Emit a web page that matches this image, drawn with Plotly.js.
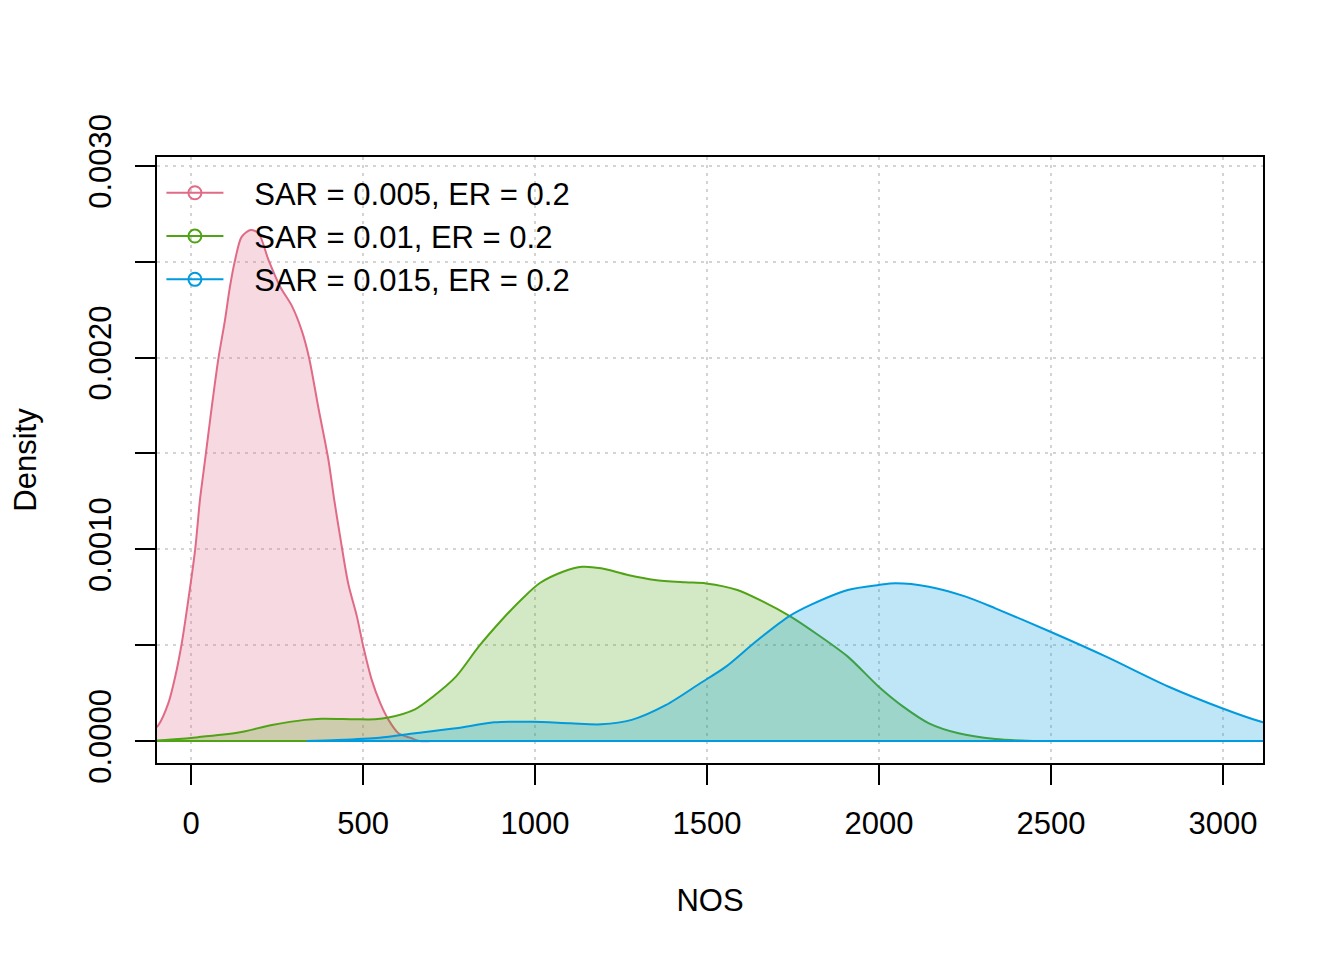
<!DOCTYPE html>
<html>
<head>
<meta charset="utf-8">
<script src="https://cdn.plot.ly/plotly-3.0.1.min.js"></script>
<style>
  body { margin: 0; background: #fff; }
  #chart { width: 1344px; height: 960px; }
</style>
</head>
<body>
<div id="chart"></div>
<script>
// Density estimates (NOS vs density)
const seriesNames = ['SAR = 0.005, ER = 0.2', 'SAR = 0.01, ER = 0.2', 'SAR = 0.015, ER = 0.2'];
const seriesColors = ['#E16A86', '#50A315', '#009ADE'];

const nosLow = [-180, -140, -95, -66, -46, -27, -8, 12, 26, 41, 60, 79, 99, 113, 128, 147, 173,
                196, 225, 259, 293, 322, 343, 370, 399, 416, 433, 457, 482, 501, 525, 550, 574, 603, 641, 664, 700];
const densLow = [0, 0.00002, 0.000083, 0.000197, 0.000336, 0.00051, 0.000736, 0.001, 0.00126, 0.00147, 0.00174, 0.00199, 0.0022, 0.00237, 0.00251, 0.00263, 0.002666,
                 0.00265, 0.00251, 0.00237, 0.00227, 0.00214, 0.002, 0.00174, 0.00147, 0.00126, 0.00107, 0.00082, 0.00065, 0.00049, 0.00032, 0.000197, 0.00011, 0.00004, 0.000014, 0, 0];

const nosMid = [-200, -99, 21, 138, 235, 331, 380, 477, 535, 574, 651, 703, 770, 836, 903, 959, 1014, 1081, 1137, 1192, 1270,
                1348, 1437, 1497, 1588, 1663, 1743, 1823, 1909, 1999, 2070, 2145, 2231, 2338, 2413, 2450];
const densMid = [0, 0.000003, 0.00002, 0.000044, 0.000083, 0.00011, 0.000116, 0.000113, 0.000113, 0.000122, 0.000165, 0.000231, 0.000336, 0.000492, 0.000631, 0.000736, 0.000824, 0.000883, 0.000909, 0.000901, 0.000866,
                 0.00084, 0.000828, 0.000822, 0.000788, 0.000727, 0.000649, 0.000553, 0.00044, 0.000283, 0.000179, 0.000092, 0.00004, 0.00001, 0.000002, 0];

const nosHigh = [336, 425, 548, 651, 770, 881, 992, 1103, 1192, 1281, 1381, 1480, 1555, 1641, 1737, 1801, 1909, 1999, 2048,
                 2145, 2252, 2338, 2498, 2660, 2842, 2997, 3111, 3200, 3300, 3400, 3460];
const densHigh = [0, 0.000005, 0.000017, 0.00004, 0.000066, 0.000097, 0.0001, 0.000092, 0.000087, 0.00011, 0.000188, 0.000301, 0.000388, 0.000518, 0.000649, 0.00071, 0.000788, 0.000814, 0.000823,
                  0.000805, 0.000753, 0.000692, 0.00057, 0.00044, 0.000283, 0.000171, 0.0001, 0.00006, 0.00003, 0.00001, 0];

const xTicks = [0, 500, 1000, 1500, 2000, 2500, 3000];
const yTicks = [0, 0.001, 0.002, 0.003];

function hexToRgba(hex, a) {
    const n = parseInt(hex.slice(1), 16);
    return `rgba(${(n >> 16) & 255},${(n >> 8) & 255},${n & 255},${a})`;
}

// filled density curve plus the straight baseline R's polygon() leaves
function densityTraces(xs, ys, color) {
    const curve = {
        x: xs, y: ys,
        type: 'scatter',
        mode: 'lines',
        fill: 'tozeroy',
        fillcolor: hexToRgba(color, 0.25),
        line: { color: color, width: 2, shape: 'spline', smoothing: 0.8 },
        showlegend: false,
        hoverinfo: 'skip'
    };
    const base = {
        x: [xs[0], xs[xs.length - 1]],
        y: [ys[0], ys[ys.length - 1]],
        type: 'scatter',
        mode: 'lines',
        line: { color: color, width: 2 },
        showlegend: false,
        hoverinfo: 'skip'
    };
    return [curve, base];
}

// legend-only entries with the open circle symbol
// (leading no-break spaces reproduce the gap R leaves before the labels)
function legendTrace(name, color) {
    return {
        x: [null], y: [null],
        type: 'scatter',
        mode: 'lines+markers',
        name: '\u00A0\u00A0\u00A0' + name,
        line: { color: color, width: 2 },
        marker: { symbol: 'circle-open', size: 13, color: color, line: { width: 2, color: color } }
    };
}

const data = [].concat(
    densityTraces(nosLow, densLow, seriesColors[0]),
    densityTraces(nosMid, densMid, seriesColors[1]),
    densityTraces(nosHigh, densHigh, seriesColors[2])
);
seriesNames.forEach((name, i) => data.push(legendTrace(name, seriesColors[i])));

const font = { family: 'Liberation Sans, Arial, sans-serif', size: 31, color: '#000' };
const gridDash = '3px,5px';

const layout = {
    width: 1344,
    height: 960,
    margin: { l: 157, r: 81, t: 157, b: 197 },
    paper_bgcolor: '#fff',
    plot_bgcolor: '#fff',
    font: font,
    showlegend: true,
    legend: {
        x: 0.004, y: 0.985, xanchor: 'left', yanchor: 'top',
        bgcolor: 'rgba(0,0,0,0)',
        font: font,
        itemwidth: 57,
        tracegroupgap: 0
    },
    xaxis: {
        range: [-99, 3116],
        tickvals: xTicks,
        ticktext: xTicks.map(String),
        ticks: 'outside', ticklen: 20, tickwidth: 2, tickcolor: '#000',
        ticklabelstandoff: 12,
        showline: true, linecolor: '#000', linewidth: 2, mirror: true,
        showgrid: true, gridcolor: '#D3D3D3', gridwidth: 2, griddash: gridDash,
        zeroline: false,
        title: { text: 'NOS', font: font, standoff: 49 }
    },
    yaxis: {
        range: [-0.000115, 0.003047],
        tickvals: yTicks,
        ticktext: yTicks.map(v => v.toFixed(4)),
        tickangle: -90,
        ticks: 'outside', ticklen: 20, tickwidth: 2, tickcolor: '#000',
        ticklabelstandoff: 12,
        minor: {
            dtick: 0.0005, tick0: 0, ticks: 'outside', ticklen: 20, tickwidth: 2, tickcolor: '#000',
            showgrid: true, gridcolor: '#D3D3D3', gridwidth: 2, griddash: gridDash
        },
        showline: true, linecolor: '#000', linewidth: 2, mirror: true,
        showgrid: true, gridcolor: '#D3D3D3', gridwidth: 2, griddash: gridDash,
        zeroline: false,
        title: { text: 'Density', font: font, standoff: 37 }
    }
};

Plotly.newPlot('chart', data, layout, { staticPlot: true });
</script>
</body>
</html>
